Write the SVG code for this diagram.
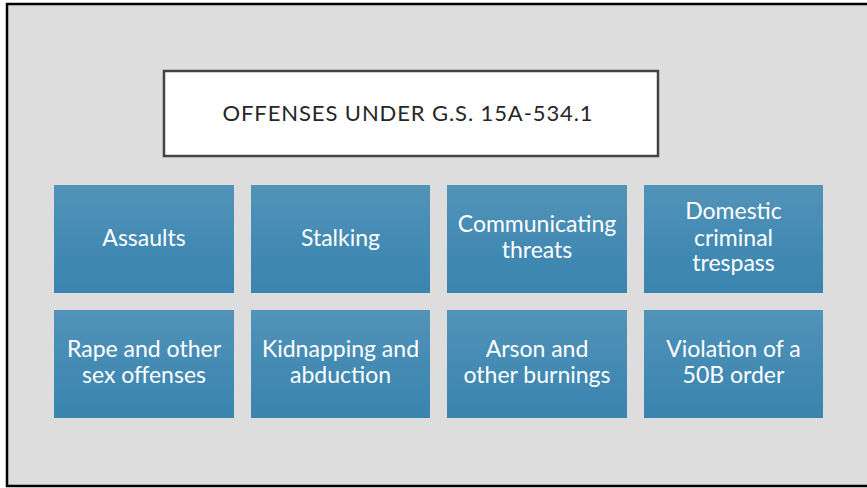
<svg xmlns="http://www.w3.org/2000/svg" width="867" height="488" viewBox="0 0 867 488">
  <style>
    .tile { fill: url(#tileFill); }
    .lbl { font-family: Lato, "Noto Sans", "Liberation Sans", sans-serif; font-size: 23px; fill: #ffffff; text-anchor: middle; }
    .title { font-family: Lato, "Noto Sans", "Liberation Sans", sans-serif; font-size: 22px; fill: #262626; text-anchor: middle; letter-spacing: 0.9px; }
  </style>
  <defs>
    <linearGradient id="tileFill" x1="0" y1="0" x2="0" y2="1">
      <stop offset="0" stop-color="#5393b8"/>
      <stop offset="0.5" stop-color="#448bb4"/>
      <stop offset="1" stop-color="#3984b0"/>
    </linearGradient>
  </defs>

  <!-- slide frame -->
  <rect x="0" y="0" width="867" height="488" fill="#ffffff"/>
  <rect x="7" y="4" width="875" height="482" fill="#dddddd" stroke="#000000" stroke-width="2.5"/>

  <g id="title">
    <rect x="164" y="71" width="494" height="85" fill="#ffffff" stroke="#444444" stroke-width="2.5"/>
    <text class="title" x="408" y="121">OFFENSES UNDER G.S. 15A-534.1</text>
  </g>

  <g id="connectors"></g>

  <g id="assaults">
    <rect class="tile" x="54" y="185" width="180" height="108"/>
    <text class="lbl" x="144" y="246">Assaults</text>
  </g>
  <g id="stalking">
    <rect class="tile" x="251" y="185" width="179" height="108"/>
    <text class="lbl" x="340.5" y="246">Stalking</text>
  </g>
  <g id="threats">
    <rect class="tile" x="447" y="185" width="180" height="108"/>
    <text class="lbl" x="537" y="232">Communicating</text>
    <text class="lbl" x="537" y="257.5">threats</text>
  </g>
  <g id="trespass">
    <rect class="tile" x="644" y="185" width="179" height="108"/>
    <text class="lbl" x="733.5" y="219">Domestic</text>
    <text class="lbl" x="733.5" y="245.5">criminal</text>
    <text class="lbl" x="733.5" y="271">trespass</text>
  </g>

  <g id="rape">
    <rect class="tile" x="54" y="310" width="180" height="108"/>
    <text class="lbl" x="144" y="357">Rape and other</text>
    <text class="lbl" x="144" y="383">sex offenses</text>
  </g>
  <g id="kidnapping">
    <rect class="tile" x="251" y="310" width="179" height="108"/>
    <text class="lbl" x="340.5" y="357">Kidnapping and</text>
    <text class="lbl" x="340.5" y="383">abduction</text>
  </g>
  <g id="arson">
    <rect class="tile" x="447" y="310" width="180" height="108"/>
    <text class="lbl" x="537" y="357">Arson and</text>
    <text class="lbl" x="537" y="383">other burnings</text>
  </g>
  <g id="violation">
    <rect class="tile" x="644" y="310" width="179" height="108"/>
    <text class="lbl" x="733.5" y="357">Violation of a</text>
    <text class="lbl" x="733.5" y="383">50B order</text>
  </g>
</svg>
